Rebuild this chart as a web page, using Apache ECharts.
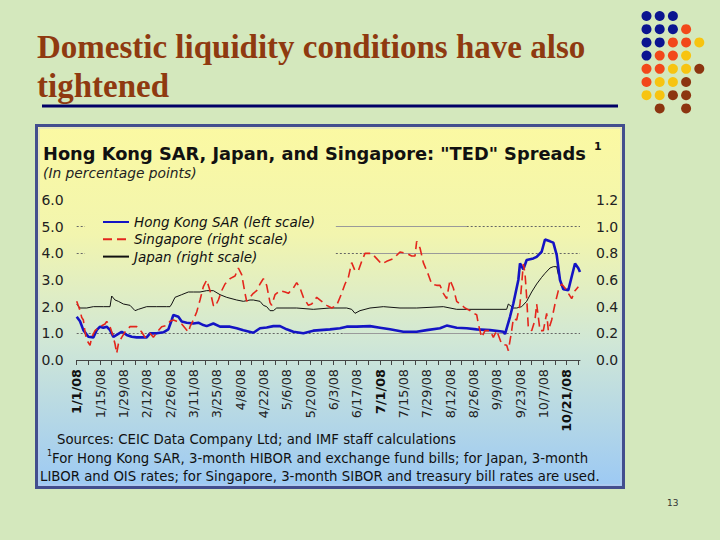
<!DOCTYPE html>
<html><head><meta charset="utf-8">
<script src="https://cdn.jsdelivr.net/npm/echarts/dist/echarts.min.js"></script>
<style>html,body{margin:0;padding:0;background:#d4e8bd;}#c{width:720px;height:540px;}</style>
</head><body><div id="c"></div>
<script>
// ---- data (x = calendar days after 1 Jan 2008) ----
const hkDays = [0,2,4,7,10,12,14,16,18,20,22,24,27,30,33,36,42,44,48,52,55,57,58,61,63,66,70,73,76,78,82,86,92,96,100,106,110,114,118,122,126,130,136,142,146,152,158,162,168,176,182,188,196,204,210,218,222,228,234,240,248,254,256,257,260,262,265,266,268,270,274,276,279,281,284,286,288,290,292,295,297,299,301,302];
const hkValues = [1.62,1.45,1.12,0.87,0.85,1.12,1.25,1.21,1.25,1.12,0.87,0.94,1.06,0.94,0.87,0.85,0.85,1.0,1.0,1.04,1.15,1.5,1.69,1.62,1.44,1.40,1.37,1.40,1.31,1.27,1.37,1.25,1.25,1.19,1.12,1.02,1.19,1.22,1.27,1.27,1.15,1.06,1.0,1.1,1.12,1.15,1.19,1.25,1.25,1.27,1.21,1.15,1.06,1.06,1.12,1.19,1.29,1.21,1.19,1.15,1.12,1.08,1.06,0.97,1.62,2.12,3.0,3.62,3.4,3.75,3.81,3.87,4.06,4.52,4.45,4.4,3.94,3.0,2.65,2.62,3.12,3.62,3.44,3.3];

const sgDays = [0,2,3,4,5,6,8,9,11,14,17,18,20,22,23,24,25,27,29,32,36,39,41,44,46,49,51,54,56,58,60,63,65,67,68,70,72,74,76,78,80,82,83,85,87,89,92,95,97,99,101,102,104,106,108,110,112,114,116,117,119,122,125,127,130,132,134,136,139,141,144,147,150,153,156,159,161,163,165,167,169,171,173,177,180,183,186,190,194,198,201,203,204,206,208,211,213,216,218,220,222,224,226,228,230,233,236,238,240,241,243,245,248,250,252,255,258,259,261,262,264,266,267,268,269,270,271,273,275,276,277,278,280,282,283,285,287,289,291,293,295,297,299,301];
const sgValues = [0.44,0.37,0.32,0.30,0.21,0.15,0.11,0.17,0.22,0.25,0.27,0.29,0.25,0.17,0.12,0.05,0.12,0.17,0.21,0.25,0.25,0.21,0.17,0.20,0.17,0.22,0.25,0.26,0.29,0.30,0.29,0.27,0.24,0.21,0.25,0.30,0.36,0.45,0.55,0.60,0.52,0.41,0.40,0.45,0.52,0.57,0.61,0.63,0.69,0.64,0.50,0.44,0.47,0.50,0.52,0.57,0.61,0.56,0.43,0.41,0.49,0.52,0.51,0.50,0.54,0.58,0.54,0.47,0.41,0.42,0.47,0.44,0.41,0.39,0.41,0.50,0.57,0.62,0.73,0.67,0.67,0.74,0.80,0.80,0.76,0.72,0.74,0.76,0.81,0.80,0.78,0.78,0.89,0.84,0.73,0.64,0.57,0.56,0.56,0.50,0.46,0.60,0.54,0.44,0.42,0.39,0.37,0.35,0.34,0.27,0.17,0.22,0.22,0.17,0.22,0.12,0.11,0.07,0.22,0.31,0.30,0.42,0.57,0.72,0.65,0.47,0.24,0.22,0.30,0.42,0.32,0.22,0.22,0.35,0.22,0.30,0.42,0.52,0.57,0.54,0.50,0.46,0.52,0.55];

const jpDays = [0,2,6,10,16,20,21,23,25,28,32,35,37,42,48,54,56,57,59,63,67,70,74,78,82,86,90,96,100,104,106,110,112,114,116,118,120,128,132,142,152,162,165,167,170,176,184,194,204,220,228,234,248,258,259,260,262,264,267,270,273,276,279,281,284,286,288,289];
const jpValues = [0.42,0.39,0.39,0.40,0.40,0.40,0.48,0.45,0.44,0.42,0.41,0.37,0.38,0.40,0.40,0.40,0.40,0.42,0.47,0.49,0.51,0.51,0.51,0.52,0.52,0.49,0.47,0.45,0.44,0.45,0.45,0.44,0.41,0.40,0.37,0.37,0.39,0.39,0.39,0.38,0.39,0.39,0.38,0.35,0.37,0.39,0.40,0.39,0.39,0.40,0.38,0.38,0.38,0.38,0.42,0.41,0.39,0.39,0.40,0.44,0.51,0.57,0.62,0.65,0.69,0.70,0.70,0.64];

const seriesNames = ['Hong Kong SAR (left scale)', 'Singapore (right scale)', 'Japan (right scale)'];
const leftTicks = [0, 6, 1];      // min, max, step
const rightTicks = [0, 1.2, 0.2];
const xRange = [0, 302];          // 1 Jan 2008 .. 30 Oct 2008
const boldDates = ['1/1/08', '7/1/08', '10/21/08'];

// ---- helpers ----
function dayLabel(d) {
  const dt = new Date(2008, 0, 1 + d);
  return (dt.getMonth() + 1) + '/' + dt.getDate() + '/08';
}
function pairs(xs, ys) { return xs.map((x, i) => [x, ys[i]]); }

const FONT = '"DejaVu Sans", Verdana, sans-serif';
const SERIF = 'bold 33px "Liberation Serif", "Times New Roman", serif';
const chart = echarts.init(document.getElementById('c'), null, {renderer: 'svg'});

// decorative dot pattern (N navy, R red, Y yellow, B brown)
const dotRows = ['NNN..', 'NNNR.', 'NNRRY', 'NRRY.', 'RRYYB', 'RYYB.', 'YYBB.', '.B.B.'];
const dotColors = {N: '#0a1490', R: '#f2481a', Y: '#f7c410', B: '#8c3510'};
const dots = [];
dotRows.forEach((row, r) => row.split('').forEach((ch, c) => {
  if (ch !== '.') dots.push({type: 'circle', silent: true,
    shape: {cx: 646.5 + c * 13.2, cy: 16 + r * 13.2, r: 5},
    style: {fill: dotColors[ch]}});
}));

const gridDot = {color: '#666', width: 1, type: [2, 2]};
const gridSolid = {color: '#9a9a9a', width: 1, type: 'solid'};
function seg(y, x0, x1, st) {
  return [{coord: [x0, y], lineStyle: st}, {coord: [x1, y], lineStyle: st}];
}
const FN = '13.3px ' + FONT;

const option = {
  backgroundColor: '#d4e8bd',
  animation: false,
  graphic: [
    {type: 'text', x: 37, y: 30, style: {text: 'Domestic liquidity conditions have also',
      font: SERIF, fill: '#8f3a10', verticalAlign: 'top'}},
    {type: 'text', x: 37, y: 69, style: {text: 'tightened',
      font: SERIF, fill: '#8f3a10', verticalAlign: 'top'}},
    {type: 'line', shape: {x1: 42, y1: 106, x2: 618, y2: 106}, style: {stroke: '#000066', lineWidth: 3}},
    ...dots,
    {type: 'rect', z: -10, shape: {x: 36.5, y: 125.5, width: 587, height: 362},
      style: {fill: new echarts.graphic.LinearGradient(0, 0, 0, 1, [
        {offset: 0, color: '#fbf9a2'}, {offset: 0.3, color: '#f2f5ae'},
        {offset: 0.6, color: '#d0e7d6'}, {offset: 1, color: '#9cc9f4'}]),
        stroke: '#434e8e', lineWidth: 3}},
    {type: 'rect', z: -9, shape: {x: 39, y: 128, width: 582, height: 357},
      style: {fill: 'none', stroke: 'rgba(200,205,235,0.7)', lineWidth: 1}},
    {type: 'text', x: 43, y: 153, style: {text: 'Hong Kong SAR, Japan, and Singapore: "TED" Spreads',
      font: 'bold 17.8px ' + FONT, fill: '#111', verticalAlign: 'middle'}},
    {type: 'text', x: 594, y: 146, style: {text: '1', font: 'bold 11px ' + FONT, fill: '#111', verticalAlign: 'middle'}},
    {type: 'text', x: 43, y: 173, style: {text: '(In percentage points)',
      font: 'italic 13.8px ' + FONT, fill: '#222', verticalAlign: 'middle'}},
    {type: 'text', x: 57, y: 439, style: {text: 'Sources: CEIC Data Company Ltd; and IMF staff calculations',
      font: FN, fill: '#111', verticalAlign: 'middle'}},
    {type: 'text', x: 47, y: 453, style: {text: '1', font: '8px ' + FONT, fill: '#111', verticalAlign: 'middle'}},
    {type: 'text', x: 52, y: 458, style: {text: 'For Hong Kong SAR, 3-month HIBOR and exchange fund bills; for Japan, 3-month',
      font: FN, fill: '#111', verticalAlign: 'middle'}},
    {type: 'text', x: 40, y: 476, style: {text: 'LIBOR and OIS rates; for Singapore, 3-month SIBOR and treasury bill rates are used.',
      font: FN, fill: '#111', verticalAlign: 'middle'}},
    {type: 'text', x: 667, y: 503, style: {text: '13', font: '9px ' + FONT, fill: '#333', verticalAlign: 'middle'}}
  ],
  grid: {left: 76.7, right: 140, top: 200, bottom: 180, containLabel: false},
  legend: {
    data: seriesNames, orient: 'vertical', left: 102, top: 215, padding: 0,
    itemWidth: 26, itemHeight: 14, itemGap: 3.3,
    itemStyle: {color: 'transparent', borderWidth: 0, opacity: 0},
    textStyle: {fontFamily: FONT, fontStyle: 'italic', fontSize: 13.5, color: '#111'}
  },
  xAxis: {
    type: 'value', min: xRange[0], max: xRange[1], interval: 7,
    axisLine: {show: true, onZero: false, lineStyle: {color: '#444', width: 1}},
    axisTick: {show: true, length: 5, lineStyle: {color: '#444'}},
    splitLine: {show: false},
    axisLabel: {
      rotate: 90, margin: 9, fontFamily: FONT, fontSize: 12.8, color: '#222',
      showMaxLabel: false,
      formatter: v => {
        if (v % 14 !== 0) return '';
        const s = dayLabel(v);
        return boldDates.includes(s) ? '{b|' + s + '}' : s;
      },
      rich: {b: {fontFamily: FONT, fontSize: 12.8, fontWeight: 'bold', color: '#111'}}
    }
  },
  yAxis: [
    {type: 'value', min: leftTicks[0], max: leftTicks[1], interval: leftTicks[2], position: 'left',
      axisLine: {show: false}, axisTick: {show: false}, splitLine: {show: false},
      axisLabel: {margin: 13, fontFamily: FONT, fontSize: 14, color: '#222', formatter: v => v.toFixed(1)}},
    {type: 'value', min: rightTicks[0], max: rightTicks[1], interval: rightTicks[2], position: 'right',
      axisLine: {show: false}, axisTick: {show: false}, splitLine: {show: false},
      axisLabel: {margin: 16, fontFamily: FONT, fontSize: 14, color: '#222', formatter: v => v.toFixed(1)}}
  ],
  series: [
    {name: seriesNames[0], type: 'line', yAxisIndex: 0, data: pairs(hkDays, hkValues),
      symbol: 'none', z: 3, color: '#1414c4',
      lineStyle: {color: '#1414c4', width: 2.6},
      markLine: {silent: true, symbol: 'none', label: {show: false}, animation: false, z: 1,
        data: [
          seg(5, 0, 5, gridDot), seg(5, 155.5, 234, gridSolid), seg(5, 234, 302, gridDot),
          seg(4, 0, 5, gridDot), seg(4, 155.5, 171.7, gridDot), seg(4, 171.7, 270.6, gridSolid), seg(4, 270.6, 302, gridDot),
          seg(1, 0, 160, gridDot), seg(1, 160, 258, gridSolid), seg(1, 258, 302, gridDot)
        ]}},
    {name: seriesNames[1], type: 'line', yAxisIndex: 1, data: pairs(sgDays, sgValues),
      symbol: 'none', z: 4, color: '#e3261c',
      lineStyle: {color: '#e3261c', width: 1.6, type: [9, 5]}},
    {name: seriesNames[2], type: 'line', yAxisIndex: 1, data: pairs(jpDays, jpValues),
      symbol: 'none', z: 2, color: '#111',
      lineStyle: {color: '#111', width: 1}}
  ]
};
chart.setOption(option);
</script></body></html>
